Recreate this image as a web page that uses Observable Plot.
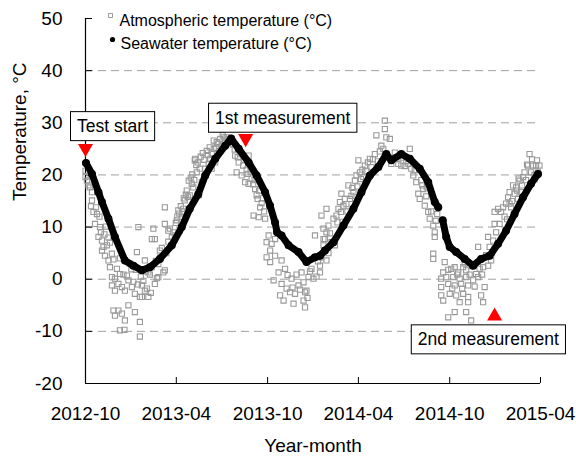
<!DOCTYPE html>
<html>
<head>
<meta charset="utf-8">
<script src="https://cdn.jsdelivr.net/npm/d3@7"></script>
<script src="https://cdn.jsdelivr.net/npm/@observablehq/plot@0.6"></script>
<style>
  body { margin: 0; background: #fff; }
  #chart { width: 576px; height: 457px; }
</style>
</head>
<body>
<div id="chart"></div>
<script>
// ---------------- DATA ----------------
const startDate = "2012-10-01"; // day 0 of the test
const xTickLabels = ["2012-10", "2013-04", "2013-10", "2014-04", "2014-10", "2015-04"];
const yTicks = [-20, -10, 0, 10, 20, 30, 40, 50];
const gridValues = [-10, 0, 10, 20, 30, 40];

// Seawater temperature (days since test start, °C, record segment)
const seaDay = [1,13,26,33,46,59,79,96,113,129,149,173,193,209,226,240,260,280,292,307,
  327,343,360,370,380,384,393,407,427,443,460,470,480,497,517,537,553,570,587,603,
  613,633,650,670,687,700,707,
  716,723,730,743,760,777,793,810,827,843,860,877,893,907];
const seaTemp = [22.3,20.2,16.7,14.8,11.6,8.1,3.6,2.6,1.7,2.3,3.9,6.5,10.0,13.5,16.3,19.9,23.1,25.6,27.0,25.0,
  22.4,19.9,16.7,14.1,10.9,9.0,8.4,6.5,5.2,3.3,4.2,4.5,5.5,7.1,10.3,13.5,16.7,19.9,21.5,24.0,
  22.8,24.0,23.1,21.2,18.6,14.8,13.8,
  11.3,8.1,6.2,5.2,3.9,2.6,3.9,4.5,6.8,9.3,12.5,15.7,18.3,20.2];
const seaSegment = [1,1,1,1,1,1,1,1,1,1,1,1,1,1,1,1,1,1,1,1,
  1,1,1,1,1,1,1,1,1,1,1,1,1,1,1,1,1,1,1,1,
  1,1,1,1,1,1,1,
  2,2,2,2,2,2,2,2,2,2,2,2,2,2];

// Atmospheric temperature (days since test start, °C)
const atmDay = [
  0,0,3,9,13,13,16,23,19,29,26,33,36,33,39,46,43,53,49,53,59,53,66,73,59,79,69,83,86,93,
  99,113,109,56,66,73,59,79,99,86,69,78,109,109,103,119,126,133,146,139,119,113,126,106,136,133,139,149,159,156,
  146,159,166,169,173,159,186,183,193,189,199,203,213,223,219,229,209,216,196,
  220,227,233,240,250,247,257,257,263,270,277,283,273,253,260,300,307,303,313,327,
  330,340,333,320,327,343,337,347,350,360,363,367,373,370,380,363,370,380,377,387,
  393,400,393,390,397,403,413,410,420,417,427,433,437,440,447,453,457,460,470,473,
  470,440,437,443,477,477,473,483,
  477,480,483,487,493,500,497,503,510,507,513,517,520,527,530,537,540,543,550,557,
  547,560,570,580,583,593,597,600,600,603,610,613,627,633,650,647,653,657,663,667,
  670,677,680,687,690,697,700,700,697,697,713,713,713,717,
  720,717,723,733,740,747,757,763,737,750,763,727,740,753,767,777,783,790,787,797,
  807,800,793,797,730,743,757,767,750,767,727,740,763,773,787,807,810,813,820,820,
  827,833,837,843,847,850,857,860,863,867,870,873,877,880,887,893,897,903,910,890,
  907,850,
  176,179,181,184,188,191,194,197,201,205,207,211,214,218,222,225,231,235,238,243,
  245,249,253,262,266,268,275,280,287,290,
  296,299,305,310,316,318,323,325,331,336,339,345,348,353,356,358,
  490,505,512,515,523,525,533,535,545,552,555,563,566,573,576,586,590,
  620,623,637,640,643,660,673,675,683,684,693,702,705,
  815,817,823,830,840,845,853,855,865,868,875,883,885,895,900,905,900,
  89,92,96,101,105,111,116,121,123,129,131,141,143,150,153,162,166,
  6,11,21,28,31,38,41,46,49,56,63,69,76,
  405,415,423,430,445,450,463,466,483,487,
  727,735,745,755,760,770,775,780,795,803];
const atmTemp = [
  19.6,20.8,18.9,17.6,16.7,15.1,12.9,12.5,10.6,10.0,8.1,7.4,6.2,5.5,4.5,3.6,6.5,4.9,2.3,0.4,0.1,-1.2,-0.9,-1.5,-2.2,-2.2,1.0,0.7,-0.2,-1.5,
  -2.8,-1.2,-3.4,-6.0,-6.0,-6.6,-7.0,-7.9,-6.3,-5.0,-9.8,-9.7,-8.2,-11.0,5.2,3.6,1.3,2.3,0.4,-0.9,-2.2,-3.4,-3.4,10.0,9.7,7.7,7.7,5.5,1.7,1.3,
  2.9,13.8,9.3,9.7,8.1,10.6,13.2,11.3,11.9,9.3,15.1,17.0,18.3,20.5,22.8,21.2,16.1,17.6,13.5,
  23.1,16.1,18.6,21.2,23.1,22.1,25.0,26.6,26.3,26.9,27.2,27.2,25.6,21.2,22.4,23.7,22.4,20.5,19.9,23.7,
  21.8,17.3,19.3,18.6,18.3,16.1,12.2,11.9,13.8,11.6,7.1,8.4,6.8,5.5,7.7,4.2,3.3,4.5,-0.2,1.3,
  3.6,2.0,-0.9,-3.1,-4.1,-1.8,0.1,-2.5,-2.8,-4.7,-1.2,1.3,-0.6,-2.5,0.4,2.0,0.1,8.4,1.3,4.2,
  2.6,-5.4,-4.1,-2.2,7.7,9.7,12.2,13.5,
  6.5,7.7,9.0,10.3,7.1,6.5,11.6,12.2,14.8,13.5,16.4,14.1,15.4,18.0,15.4,16.7,18.9,19.9,20.5,19.6,
  22.8,21.8,23.1,24.0,27.6,25.6,25.0,28.8,30.4,27.2,26.9,22.1,22.1,21.8,25.0,22.1,21.2,19.9,18.6,16.4,
  15.4,17.3,14.1,12.9,11.6,10.3,9.0,8.1,4.9,3.9,0.1,-1.5,-3.1,-4.1,
  3.3,1.3,0.4,2.0,2.3,1.3,2.3,1.7,0.4,0.1,0.4,-0.9,-1.2,-0.9,-1.2,-0.2,1.0,2.0,0.4,2.3,
  2.6,-1.5,-3.1,-4.4,-2.8,-3.1,-2.8,-3.4,-4.4,-4.4,-7.3,-6.3,-6.3,-7.9,6.2,8.1,6.2,3.6,10.6,12.9,
  13.5,12.9,13.8,14.5,15.7,16.7,18.0,16.4,17.6,15.4,18.9,16.7,19.6,20.5,21.8,20.5,21.8,21.8,21.8,24.0,
  20.5,14.5,
  9.0,8.4,10.8,12.0,12.6,14.0,13.0,15.5,16.2,15.8,18.9,19.5,20.1,19.0,21.9,22.4,23.5,24.2,22.9,24.6,
  23.8,25.3,24.1,25.2,26.0,24.6,27.6,26.4,26.8,26.0,
  25.8,24.9,23.4,24.1,21.8,22.9,21.0,20.2,20.6,18.2,19.0,15.4,17.0,14.6,15.5,13.0,
  8.8,10.9,12.9,11.0,14.4,13.0,16.0,17.5,17.8,19.2,21.0,20.7,22.4,21.5,23.0,22.6,24.5,
  24.3,23.0,23.3,21.7,22.6,20.9,19.0,18.0,15.9,17.6,13.0,11.2,12.5,
  5.0,7.4,9.0,10.6,12.0,11.5,13.8,15.0,17.0,19.3,18.0,19.0,22.0,23.0,20.0,22.8,19.2,
  3.0,1.9,-0.5,1.8,-1.0,0.5,-0.3,1.5,-1.8,0.9,-2.6,3.5,0.2,4.2,6.0,5.0,7.2,
  18.0,14.0,13.8,12.0,9.0,8.6,10.1,8.0,7.0,3.8,2.0,4.0,0.9,
  0.8,-1.6,0.9,-2.0,-3.6,1.5,0.5,3.4,3.6,5.0,
  1.8,-1.8,0.9,-1.8,3.0,0.9,2.5,-1.4,0.9,4.6];

// Annotations (marker position in data space)
const annotLabels = ["Test start", "1st measurement", "2nd measurement"];
const annotDay = [0, 321, 820];
const annotTemp = [25.1, 27.0, -7.1];
const annotDirection = ["down", "down", "up"];

const legendLabels = ["Atmospheric temperature (°C)", "Seawater temperature (°C)"];
const xAxisTitle = "Year-month";
const yAxisTitle = "Temperature, °C";

// ---------------- BUILD ----------------
const t0 = d3.utcParse("%Y-%m-%d")(startDate);
const toDate = k => d3.utcDay.offset(t0, k);
const xTicks = xTickLabels.map(s => d3.utcParse("%Y-%m")(s));
const fmtX = d3.utcFormat("%Y-%m");

const seaData = seaDay.map((d, i) => ({date: toDate(d), temp: seaTemp[i], seg: seaSegment[i]}));
const atmData = atmDay.map((d, i) => ({date: toDate(d), temp: atmTemp[i]}));
const annots = annotLabels.map((l, i) => ({label: l, date: toDate(annotDay[i]), temp: annotTemp[i], dir: annotDirection[i]}));

// label box offsets (px) relative to markers
const annotOffset = [[27, -21.8], [37, -20.3], [-6.3, 23.5]];

const FONT = "'Liberation Sans', Arial, Helvetica, sans-serif";
const gray = "#999999";

const chart = Plot.plot({
  width: 576,
  height: 457,
  marginLeft: 85,
  marginRight: 36,
  marginTop: 18,
  marginBottom: 74,
  style: {fontFamily: FONT, fontSize: "19px", background: "#fff", color: "#000", overflow: "visible"},
  x: {type: "utc", domain: [xTicks[0], xTicks[xTicks.length - 1]]},
  y: {domain: [yTicks[0], yTicks[yTicks.length - 1]]},
  marks: [
    Plot.ruleY(gridValues, {stroke: "#a0a0a0", strokeWidth: 1, strokeDasharray: "8,5"}),
    Plot.axisY({ticks: yTicks, tickSize: 0, tickPadding: 23, tickFormat: d => String(d), label: null}),
    Plot.axisY({ticks: yTicks, tickSize: 7, dx: 7, tickFormat: () => "", label: null}),
    Plot.axisX({ticks: xTicks, tickSize: 0, tickPadding: 23, tickFormat: fmtX, label: null}),
    Plot.axisX({ticks: xTicks, tickSize: 6, dy: -6, tickFormat: () => "", label: null}),
    Plot.ruleX([xTicks[0]], {stroke: "#000", strokeWidth: 1.2}),
    Plot.ruleY([yTicks[0]], {stroke: "#000", strokeWidth: 1.2}),
    Plot.dot(atmData, {x: "date", y: "temp", symbol: "square", r: 2.9, stroke: gray, strokeWidth: 1.1, fill: "none"}),
    Plot.line(seaData, {x: "date", y: "temp", z: "seg", stroke: "#000", strokeWidth: 7, strokeLinejoin: "round", strokeLinecap: "round"}),
    Plot.dot(seaData, {x: "date", y: "temp", r: 4, fill: "#000"}),
    // legend
    Plot.dot([legendLabels[0]], {x: null, y: null, frameAnchor: "top-left", dx: 25, dy: -3, symbol: "square", r: 2.3, stroke: gray, strokeWidth: 1, fill: "none"}),
    Plot.text([legendLabels[0]], {x: null, y: null, text: d => d, frameAnchor: "top-left", dx: 34, dy: -4, textAnchor: "start", fontSize: 16}),
    Plot.dot([legendLabels[1]], {x: null, y: null, frameAnchor: "top-left", dx: 27, dy: 21, r: 2.6, fill: "#000"}),
    Plot.text([legendLabels[1]], {x: null, y: null, text: d => d, frameAnchor: "top-left", dx: 35, dy: 19, textAnchor: "start", fontSize: 16}),
    // axis titles
    Plot.text([xAxisTitle], {x: null, y: null, text: d => d, frameAnchor: "bottom", dy: 68, lineAnchor: "bottom", fontSize: 19}),
    Plot.text([yAxisTitle], {x: null, y: null, text: d => d, frameAnchor: "left", rotate: -90, dx: -66, fontSize: 19}),
    // annotation markers
    Plot.dot(annots, {x: "date", y: "temp", symbol: "triangle", r: 5.6, fill: "#ff0000", stroke: null, rotate: d => d.dir === "down" ? 180 : 0}),
    // annotation labels
    ...annots.map((a, i) => Plot.text([a], {x: "date", y: "temp", text: "label", dx: annotOffset[i][0], dy: annotOffset[i][1], fontSize: 17.5, lineAnchor: "middle"}))
  ]
});

document.getElementById("chart").append(chart);

// boxes behind annotation labels
const padX = 6.5, padY = 4.5;
chart.querySelectorAll("text").forEach(t => {
  if (annotLabels.includes(t.textContent)) {
    const b = t.getBBox();
    const r = document.createElementNS("http://www.w3.org/2000/svg", "rect");
    r.setAttribute("x", b.x - padX);
    r.setAttribute("y", b.y - padY);
    r.setAttribute("width", b.width + 2 * padX);
    r.setAttribute("height", b.height + 2 * padY);
    r.setAttribute("fill", "#fff");
    r.setAttribute("stroke", "#000");
    r.setAttribute("stroke-width", "1");
    const tr = t.getAttribute("transform");
    if (tr) r.setAttribute("transform", tr);
    t.parentNode.insertBefore(r, t);
  }
});
</script>
</body>
</html>
